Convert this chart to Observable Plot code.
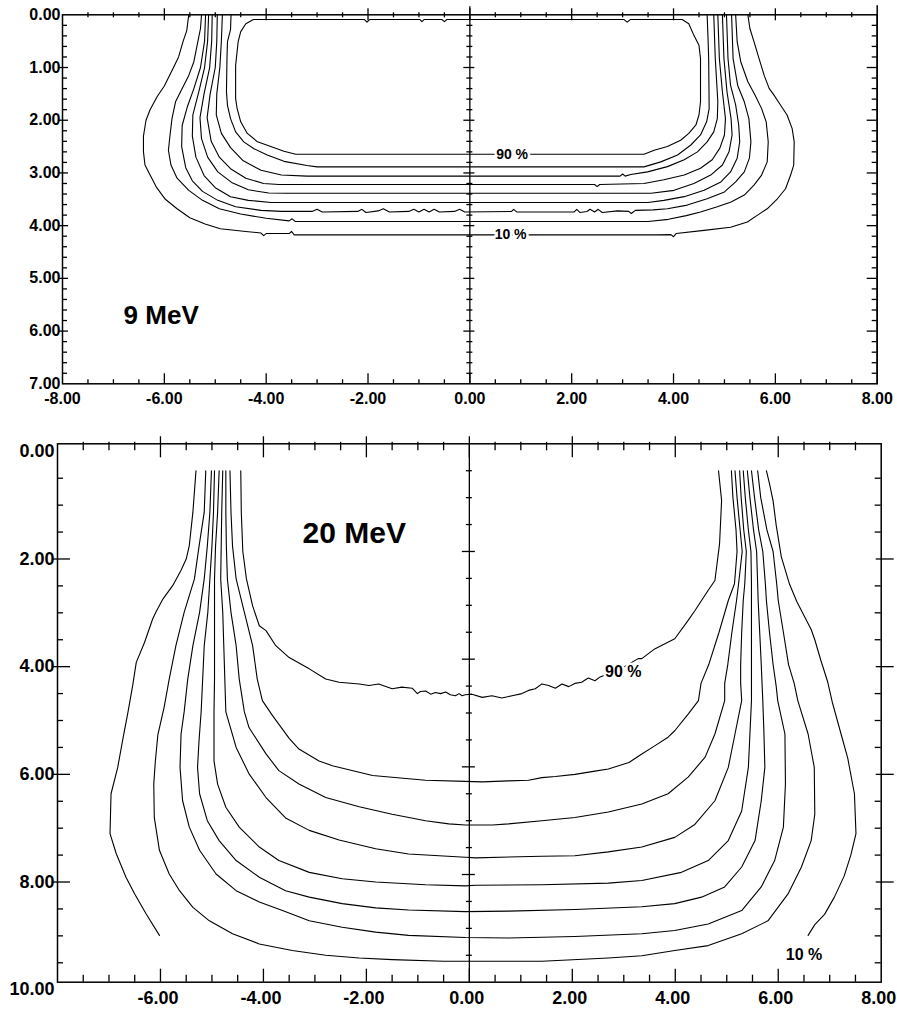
<!DOCTYPE html>
<html><head><meta charset="utf-8">
<script src="https://cdn.jsdelivr.net/npm/d3@7"></script>
<script src="https://cdn.jsdelivr.net/npm/@observablehq/plot@0.6"></script>
<style>
html,body{margin:0;padding:0;background:#fff;overflow:hidden;}
#chart{width:897px;height:1010px;}
#chart svg{display:block;}
</style></head><body><div id="chart"></div>
<script>
// ---------- 9 MeV isodose curves (x = lateral cm, y = depth cm) ----------
const c9_10 = [[-5.52,0],[-5.56,0.3],[-5.63,0.5],[-5.72,0.8],[-5.82,1.0],[-6.0,1.35],[-6.14,1.55],[-6.28,1.8],[-6.36,2.0],[-6.41,2.3],[-6.41,2.6],[-6.38,2.85],[-6.30,3.0],[-6.15,3.28],[-5.98,3.5],[-5.75,3.68],[-5.5,3.85],[-5.2,3.97],[-4.9,4.06],[-4.4,4.11],[-4.1,4.14],[-4.05,4.19],[-4.0,4.15],[-3.55,4.15],[-3.5,4.11],[-3.45,4.175],
[3.7,4.175],[3.95,4.17],[4.0,4.21],[4.05,4.15],[4.6,4.09],[5.12,4.03],[5.45,3.93],[5.65,3.80],[5.84,3.68],[6.04,3.49],[6.20,3.30],[6.30,3.04],[6.36,2.85],[6.37,2.41],[6.33,2.16],[6.23,1.90],[6.10,1.71],[5.97,1.52],[5.88,1.40],[5.78,1.15],[5.68,0.83],[5.58,0.51],[5.50,0.26],[5.46,0]];
const c9_20 = [[-5.27,0],[-5.29,0.26],[-5.34,0.5],[-5.42,0.89],[-5.52,1.15],[-5.65,1.40],[-5.78,1.65],[-5.85,1.97],[-5.89,2.3],[-5.92,2.57],[-5.87,2.85],[-5.75,3.1],[-5.52,3.33],[-5.25,3.52],[-4.92,3.68],[-4.5,3.78],[-4.0,3.86],[-3.55,3.91],[-3.49,3.87],[-3.43,3.92],
[3.5,3.92],[3.9,3.88],[4.25,3.81],[4.53,3.74],[4.86,3.64],[5.13,3.55],[5.39,3.42],[5.58,3.23],[5.73,3.04],[5.84,2.79],[5.86,2.41],[5.82,2.03],[5.73,1.78],[5.60,1.52],[5.46,1.27],[5.32,0.89],[5.25,0.51],[5.22,0]];
const c9_30 = [[-5.19,0],[-5.21,0.5],[-5.29,1.0],[-5.42,1.4],[-5.55,1.75],[-5.65,2.1],[-5.66,2.5],[-5.58,2.9],[-5.45,3.15],[-5.25,3.35],[-4.95,3.52],[-4.6,3.64],[-4.1,3.71],[-3.7,3.73],
[-3.1,3.73],[-3.0,3.69],[-2.9,3.74],[-2.2,3.73],[-2.12,3.69],[-2.04,3.75],[-1.8,3.72],[-1.7,3.68],[-1.58,3.74],[-1.2,3.73],[-1.1,3.69],[-1.0,3.74],[-0.9,3.69],[-0.8,3.74],[-0.7,3.69],[-0.6,3.74],[-0.3,3.73],[-0.2,3.69],[-0.1,3.74],[0.82,3.73],[0.86,3.69],[0.92,3.74],[2.05,3.74],[2.1,3.69],[2.16,3.75],[2.3,3.73],[2.36,3.69],[2.45,3.74],[2.52,3.69],[2.6,3.75],[2.9,3.72],[3.12,3.73],[3.17,3.77],[3.25,3.71],[3.6,3.70],
[3.88,3.68],[4.27,3.61],[4.66,3.49],[5.0,3.36],[5.22,3.17],[5.39,2.98],[5.49,2.72],[5.52,2.41],[5.48,1.97],[5.39,1.65],[5.26,1.34],[5.17,0.83],[5.14,0]];
const c9_40 = [[-5.13,0],[-5.15,0.5],[-5.21,1.0],[-5.32,1.45],[-5.44,1.9],[-5.45,2.3],[-5.38,2.7],[-5.22,3.05],[-5.0,3.28],[-4.7,3.45],[-4.35,3.52],[-3.9,3.56],[-3.6,3.56],
[3.5,3.56],[3.81,3.52],[4.21,3.45],[4.60,3.33],[4.93,3.17],[5.12,2.98],[5.25,2.72],[5.30,2.41],[5.28,2.09],[5.22,1.71],[5.12,1.34],[5.07,0.83],[5.04,0]];
const c9_50 = [[-5.06,0],[-5.07,0.5],[-5.11,1.0],[-5.22,1.5],[-5.30,1.95],[-5.27,2.35],[-5.15,2.7],[-4.95,2.98],[-4.68,3.18],[-4.35,3.32],[-3.95,3.38],[-3.6,3.385],
[3.56,3.385],[4.01,3.33],[4.40,3.20],[4.73,3.04],[4.96,2.85],[5.09,2.60],[5.15,2.28],[5.13,1.97],[5.05,1.46],[4.99,0.83],[4.96,0]];
const c9_60 = [[-4.96,0],[-4.97,0.5],[-5.0,1.0],[-5.10,1.5],[-5.16,1.95],[-5.08,2.4],[-4.92,2.7],[-4.7,2.92],[-4.4,3.1],[-4.05,3.2],[-3.75,3.22],
[2.45,3.22],[2.5,3.26],[2.55,3.22],
[3.42,3.20],[3.81,3.13],[4.21,3.04],[4.53,2.91],[4.76,2.75],[4.91,2.53],[5.0,2.28],[5.02,1.97],[4.96,1.46],[4.90,0.83],[4.87,0]];
const c9_70 = [[-4.86,0],[-4.88,0.5],[-4.91,1.0],[-4.97,1.5],[-4.98,1.9],[-4.88,2.25],[-4.7,2.52],[-4.45,2.77],[-4.1,2.95],[-3.7,3.04],[-3.2,3.06],
[2.95,3.06],[3.0,3.02],[3.05,3.06],
[3.16,3.03],[3.49,2.98],[3.88,2.88],[4.21,2.75],[4.47,2.60],[4.66,2.41],[4.79,2.22],[4.86,1.97],[4.87,1.65],[4.82,0.83],[4.79,0]];
const c9_80 = [[-4.69,0],[-4.70,0.28],[-4.76,0.51],[-4.77,0.83],[-4.78,1.46],[-4.76,1.72],[-4.70,1.97],[-4.60,2.22],[-4.44,2.41],[-4.24,2.54],[-3.98,2.66],[-3.65,2.78],[-3.2,2.86],[-3.0,2.885],
[3.42,2.885],[3.75,2.79],[4.08,2.66],[4.34,2.47],[4.53,2.28],[4.65,2.03],[4.70,1.78],[4.69,0.83],[4.68,0.51],[4.66,0]];
const c9_90 = [[-4.25,0.09],[-4.40,0.17],[-4.50,0.32],[-4.55,0.51],[-4.60,0.96],[-4.60,1.59],[-4.57,1.78],[-4.50,2.03],[-4.37,2.25],[-4.17,2.41],[-3.91,2.50],[-3.65,2.59],[-3.42,2.645],
[3.42,2.645],[3.62,2.57],[3.88,2.50],[4.14,2.38],[4.30,2.25],[4.44,2.09],[4.50,1.90],[4.53,1.65],[4.53,0.83],[4.50,0.58],[4.40,0.39],[4.30,0.17],[4.17,0.09],
[3.15,0.09],[3.09,0.14],[3.03,0.09],[-0.45,0.09],[-0.5,0.13],[-0.55,0.09],[-0.9,0.09],[-0.94,0.13],[-0.98,0.09],[-1.97,0.09],[-2.02,0.14],[-2.07,0.09],[-4.25,0.09]];

// ---------- 20 MeV isodose curves ----------
const c20_10L = [[-5.31,0.5],[-5.37,1.27],[-5.44,1.89],[-5.50,2.14],[-5.60,2.35],[-5.76,2.63],[-5.95,2.88],[-6.09,3.13],[-6.15,3.25],[-6.31,3.69],[-6.47,4.06],[-6.54,4.49],[-6.63,4.98],[-6.73,5.48],[-6.83,6.01],[-6.96,6.50],[-6.98,7.24],[-6.86,7.61],[-6.67,8.05],[-6.50,8.36],[-6.28,8.73],[-6.02,9.13]];
const c20_10R = [[5.77,0.5],[5.83,0.74],[5.90,1.06],[5.96,1.51],[6.06,2.10],[6.22,2.61],[6.36,2.93],[6.64,3.45],[6.71,3.64],[6.83,4.03],[6.96,4.42],[7.05,4.8],[7.22,5.39],[7.35,5.84],[7.48,6.50],[7.51,7.24],[7.41,7.64],[7.28,8.03],[7.09,8.42],[6.90,8.74],[6.71,8.93],[6.58,9.13]];
const c20_20 = [[-5.12,0.5],[-5.15,1.27],[-5.25,1.9],[-5.34,2.51],[-5.54,3.13],[-5.70,3.75],[-5.83,4.37],[-5.93,4.9],[-6.05,5.4],[-6.10,5.9],[-6.13,6.32],[-6.12,6.94],[-6.02,7.55],[-5.83,7.99],[-5.63,8.30],[-5.37,8.61],[-5.05,8.86],[-4.60,9.10],[-4.08,9.29],[-3.44,9.41],[-2.79,9.50],[-2.14,9.55],[-1.50,9.58],[-0.5,9.61],
[1.41,9.61],[2.70,9.55],[3.35,9.51],[3.99,9.41],[4.64,9.32],[5.29,9.10],[5.80,8.86],[6.19,8.36],[6.45,7.86],[6.64,7.37],[6.71,6.88],[6.70,6.01],[6.58,5.39],[6.38,4.77],[6.31,4.45],[6.20,4.1],[6.10,3.5],[6.00,2.91],[5.97,2.6],[5.90,2.0],[5.78,1.6],[5.66,1.0],[5.60,0.5]];
const c20_30 = [[-5.01,0.5],[-5.04,1.27],[-5.09,1.9],[-5.15,2.51],[-5.24,3.13],[-5.37,3.75],[-5.47,4.37],[-5.54,4.98],[-5.60,5.39],[-5.62,6.01],[-5.57,6.63],[-5.44,7.12],[-5.24,7.55],[-4.92,7.99],[-4.53,8.30],[-4.08,8.51],[-3.63,8.67],[-3.11,8.86],[-2.47,8.98],[-1.82,9.07],[-1.18,9.13],[-0.08,9.17],
[0.76,9.18],[2.05,9.15],[3.35,9.10],[3.99,9.04],[4.64,8.92],[5.29,8.67],[5.67,8.23],[5.93,7.74],[6.10,7.12],[6.14,6.32],[6.13,5.39],[5.99,4.77],[5.96,4.5],[5.90,4.1],[5.83,3.5],[5.77,2.91],[5.75,2.6],[5.70,2.0],[5.62,1.6],[5.54,1.0],[5.48,0.5]];
const c20_40 = [[-4.95,0.5],[-4.97,1.27],[-5.0,1.9],[-5.04,2.51],[-5.08,3.13],[-5.15,3.75],[-5.18,4.37],[-5.21,4.98],[-5.25,5.5],[-5.28,6.01],[-5.24,6.50],[-5.09,7.00],[-4.86,7.37],[-4.53,7.74],[-4.08,8.05],[-3.57,8.30],[-3.11,8.42],[-2.47,8.54],[-1.82,8.62],[-1.18,8.66],[-0.08,8.69],
[0.76,8.68],[2.05,8.65],[3.35,8.60],[3.99,8.54],[4.51,8.42],[4.96,8.23],[5.29,7.86],[5.55,7.37],[5.67,6.63],[5.74,6.01],[5.72,5.3],[5.70,4.77],[5.67,4.1],[5.64,3.5],[5.61,2.91],[5.60,2.6],[5.58,2.0],[5.52,1.6],[5.45,1.0],[5.40,0.5]];
const c20_50 = [[-4.86,0.5],[-4.89,1.27],[-4.93,1.9],[-4.95,2.51],[-4.95,3.13],[-4.95,3.75],[-4.95,4.37],[-4.96,4.98],[-4.96,5.89],[-4.89,6.32],[-4.73,6.75],[-4.47,7.12],[-4.08,7.49],[-3.70,7.74],[-3.11,7.96],[-2.47,8.08],[-1.82,8.14],[-0.85,8.19],[-0.08,8.21],
[0.12,8.20],[1.41,8.19],[2.70,8.16],[3.35,8.11],[4.12,7.96],[4.64,7.74],[5.03,7.37],[5.29,6.82],[5.42,6.01],[5.45,5.39],[5.48,4.77],[5.48,4.1],[5.48,3.5],[5.48,2.91],[5.48,2.6],[5.47,2.0],[5.42,1.6],[5.36,1.0],[5.32,0.5]];
const c20_60 = [[-4.79,0.5],[-4.81,1.27],[-4.82,1.9],[-4.83,2.51],[-4.79,3.13],[-4.77,3.75],[-4.75,4.37],[-4.73,4.98],[-4.53,5.64],[-4.28,6.13],[-3.95,6.57],[-3.57,6.95],[-3.11,7.18],[-2.53,7.36],[-1.82,7.52],[-1.18,7.62],[-0.08,7.68],
[0.12,7.69],[1.41,7.66],[2.05,7.65],[2.70,7.58],[3.35,7.49],[3.99,7.31],[4.38,7.07],[4.77,6.63],[5.03,6.01],[5.16,5.39],[5.29,4.77],[5.27,4.45],[5.27,4.1],[5.29,3.5],[5.32,2.91],[5.35,2.6],[5.38,2.0],[5.33,1.6],[5.28,1.0],[5.25,0.5]];
const c20_70 = [[-4.73,0.5],[-4.73,1.27],[-4.72,1.9],[-4.70,2.51],[-4.63,3.13],[-4.53,3.75],[-4.47,4.37],[-4.37,4.98],[-4.28,5.27],[-3.95,5.76],[-3.70,6.07],[-3.31,6.32],[-2.79,6.57],[-2.14,6.74],[-1.50,6.88],[-0.85,7.00],[-0.40,7.06],[-0.08,7.08],
[0.12,7.08],[0.45,7.08],[0.76,7.06],[1.41,7.00],[2.05,6.94],[2.70,6.84],[3.35,6.69],[3.86,6.50],[4.25,6.19],[4.58,5.82],[4.77,5.39],[4.96,4.77],[4.96,4.45],[5.02,4.1],[5.10,3.5],[5.19,2.91],[5.23,2.6],[5.30,2.0],[5.26,1.6],[5.20,1.0],[5.16,0.5]];
const c20_80 = [[-4.65,0.5],[-4.63,1.27],[-4.60,1.9],[-4.53,2.51],[-4.37,3.13],[-4.21,3.75],[-4.12,4.37],[-4.02,4.77],[-3.83,5.04],[-3.5,5.47],[-3.31,5.67],[-2.92,5.89],[-2.66,5.98],[-2.14,6.10],[-1.88,6.16],[-0.85,6.25],[-0.08,6.27],
[0.25,6.28],[0.76,6.26],[1.15,6.25],[1.41,6.20],[1.67,6.18],[2.05,6.14],[2.44,6.08],[2.70,6.04],[3.10,5.92],[3.35,5.76],[3.60,5.61],[3.86,5.45],[3.99,5.33],[4.25,5.02],[4.45,4.77],[4.5,4.45],[4.65,4.1],[4.85,3.5],[5.03,2.91],[5.15,2.6],[5.20,2.0],[5.18,1.6],[5.12,1.0],[5.09,0.5]];
const c20_90 = [[-4.44,0.5],[-4.43,1.27],[-4.40,2.0],[-4.33,2.51],[-4.21,3.01],[-4.08,3.38],[-3.95,3.47],[-3.76,3.75],[-3.50,3.97],[-3.11,4.18],[-2.79,4.37],[-2.53,4.43],[-2.14,4.46],[-1.95,4.49],[-1.76,4.46],[-1.50,4.55],[-1.31,4.52],[-1.11,4.54],[-1.01,4.64],[-0.95,4.60],[-0.85,4.59],[-0.75,4.65],[-0.66,4.62],[-0.56,4.64],[-0.46,4.61],[-0.37,4.66],[-0.27,4.68],[-0.20,4.64],[-0.14,4.68],[-0.08,4.66],[0.05,4.65],[0.25,4.71],[0.44,4.68],[0.63,4.72],[0.83,4.68],[1.02,4.64],[1.15,4.58],[1.28,4.55],[1.41,4.46],[1.54,4.49],[1.67,4.54],[1.80,4.46],[1.93,4.51],[2.05,4.45],[2.18,4.43],[2.31,4.35],[2.44,4.40],[2.54,4.33],[2.9,4.2],[3.28,3.99],[3.35,3.99],[3.60,3.81],[3.99,3.62],[4.25,3.28],[4.38,3.10],[4.64,2.72],[4.77,2.54],[4.86,1.86],[4.90,1.05],[4.84,0.5]];

// ---------- labels ----------
const levels = ["10%","20%","30%","40%","50%","60%","70%","80%","90%"];
const curveLabels9 = [{x:0.83,y:2.645,text:"90 %"},{x:0.80,y:4.175,text:"10 %"}];
const curveLabels20 = [{x:2.99,y:4.24,text:"90 %"},{x:6.50,y:9.49,text:"10 %"}];
const title9 = [{x:-6.80,y:5.70,text:"9 MeV"}];
const title20 = [{x:-3.24,y:1.66,text:"20 MeV"}];
const xTicks9 = [-8,-6,-4,-2,0,2,4,6,8];
const xTickText9 = ["-8.00","-6.00","-4.00","-2.00","0.00","2.00","4.00","6.00","8.00"];
const yTicks9 = [0,1,2,3,4,5,6,7];
const yTickText9 = ["0.00","1.00","2.00","3.00","4.00","5.00","6.00","7.00"];
const xTicks20 = [-6,-4,-2,0,2,4,6,8];
const xTickText20 = ["-6.00","-4.00","-2.00","0.00","2.00","4.00","6.00","8.00"];
const yTicks20 = [0,2,4,6,8,10];
const yTickText20 = ["0.00","2.00","4.00","6.00","8.00","10.00"];

const FONT = "'Liberation Sans', Arial, Helvetica, sans-serif";
const INK = "#000";

const rows9 = [c9_10,c9_20,c9_30,c9_40,c9_50,c9_60,c9_70,c9_80,c9_90]
  .flatMap((pts,k)=>pts.map(([x,y])=>({x,y,id:levels[k]})));
const lines20 = [["10%L",c20_10L],["10%R",c20_10R],["20%",c20_20],["30%",c20_30],["40%",c20_40],["50%",c20_50],["60%",c20_60],["70%",c20_70],["80%",c20_80],["90%",c20_90]];
const rows20 = lines20.flatMap(([id,pts])=>pts.map(([x,y])=>({x,y,id})));

// tick helpers (pixel extents around a frame edge or the centre axis)
const halfSteps = (a,b)=>d3.range(a*2,b*2+1).map(i=>i/2);
function vt(vals, yv, up, down, o={}) {
  return Plot.ruleX(vals,{x:d=>d,y1:()=>yv,y2:()=>yv,insetTop:-up,insetBottom:-down,stroke:INK,strokeWidth:1.3,...o});
}
function ht(vals, xv, left, right, o={}) {
  return Plot.ruleY(vals,{y:d=>d,x1:()=>xv,x2:()=>xv,insetLeft:-left,insetRight:-right,stroke:INK,strokeWidth:1.3,...o});
}

// ---------- top panel ----------
const xMaj = [-6,-4,-2,0,2,4,6];
const xMin = halfSteps(-8,8).filter(v=>v>-8&&v<8&&v%2!==0);
const y9Maj = [1,2,3,4,5,6];
const y9Min = d3.range(1,35).map(i=>i/5).filter(v=>Math.abs(v-Math.round(v))>1e-9);

const topPlot = Plot.plot({
  width:897, height:420, marginTop:14.3, marginBottom:36.7, marginLeft:62, marginRight:20.3,
  x:{domain:[-8,8], axis:null},
  y:{domain:[0,7], reverse:true, axis:null},
  style:{fontFamily:FONT, background:"white", color:INK},
  marks:[
    Plot.line(rows9,{x:"x",y:"y",z:"id",stroke:INK,strokeWidth:1.1}),
    Plot.ruleX([0],{stroke:INK,strokeWidth:1.3,insetTop:-8}),
    Plot.ruleX([8],{stroke:INK,strokeWidth:1.5,insetTop:-9}),
    vt(xMaj,0,6,6), vt(xMin,0,2,3),
    vt(xMaj,7,10,0), vt(xMin,7,4,0),
    ht(y9Maj,-8,4,6), ht(y9Min,-8,0,5),
    ht(y9Maj,8,10,0), ht(y9Min,8,5,0),
    ht(y9Maj,0,6,5), ht(y9Min,0,3,3),
    Plot.frame({stroke:INK,strokeWidth:1.5}),
    Plot.text(curveLabels9,{x:"x",y:"y",text:"text",fontSize:14,fontWeight:"bold",fontFamily:FONT,fill:INK,stroke:"white",strokeWidth:5}),
    Plot.text(title9,{x:"x",y:"y",text:"text",textAnchor:"start",lineAnchor:"middle",fontSize:26,fontWeight:"bold",fontFamily:FONT,fill:INK}),
    Plot.text(xTicks9,{x:d=>d,text:(d,i)=>xTickText9[i],frameAnchor:"bottom",lineAnchor:"top",dy:8.5,fontSize:16,fontWeight:"bold",fontFamily:FONT,fill:INK}),
    Plot.text(yTicks9,{y:d=>d,text:(d,i)=>yTickText9[i],frameAnchor:"left",textAnchor:"end",lineAnchor:"middle",dx:-2,fontSize:16,fontWeight:"bold",fontFamily:FONT,fill:INK})
  ]
});

// ---------- bottom panel ----------
const y20Maj = [2,4,6,8];
const y20Min = halfSteps(0,10).filter(v=>v>0&&v<10&&v%2!==0);
const bottomPlot = Plot.plot({
  width:897, height:590, marginTop:23.3, marginBottom:28.3, marginLeft:57, marginRight:16.3,
  x:{domain:[-8,8], axis:null},
  y:{domain:[0,10], reverse:true, axis:null},
  style:{fontFamily:FONT, background:"white", color:INK},
  marks:[
    Plot.line(rows20,{x:"x",y:"y",z:"id",stroke:INK,strokeWidth:1.1}),
    Plot.ruleX([0],{stroke:INK,strokeWidth:1.3}),
    vt(xMaj,0,7,14), vt(xMin,0,1.5,7),
    vt(xMaj,10,13,0), vt(xMin,10,7,0),
    ht(y20Maj,-8,5,13,{dy:7.5}), ht(y20Min,-8,0,6,{dy:7.5}),
    ht(y20Maj,8,5,13,{dy:7.5}), ht(y20Min,8,6,0,{dy:7.5}),
    ht(y20Maj,0,7,6), ht(y20Min,0,3,3),
    Plot.frame({stroke:INK,strokeWidth:1.5}),
    Plot.text(curveLabels20,{x:"x",y:"y",text:"text",fontSize:16,fontWeight:"bold",fontFamily:FONT,fill:INK,stroke:"white",strokeWidth:5}),
    Plot.text(title20,{x:"x",y:"y",text:"text",textAnchor:"start",lineAnchor:"middle",fontSize:30,fontWeight:"bold",fontFamily:FONT,fill:INK}),
    Plot.text(xTicks20,{x:d=>d,text:(d,i)=>xTickText20[i],frameAnchor:"bottom",lineAnchor:"top",dx:-2.5,dy:9.5,fontSize:18,fontWeight:"bold",fontFamily:FONT,fill:INK}),
    Plot.text(yTicks20,{y:d=>d,text:(d,i)=>yTickText20[i],frameAnchor:"left",textAnchor:"end",lineAnchor:"middle",dx:-3,dy:7.5,fontSize:18,fontWeight:"bold",fontFamily:FONT,fill:INK})
  ]
});

const root = document.getElementById("chart");
root.appendChild(topPlot);
root.appendChild(bottomPlot);
</script></body></html>
